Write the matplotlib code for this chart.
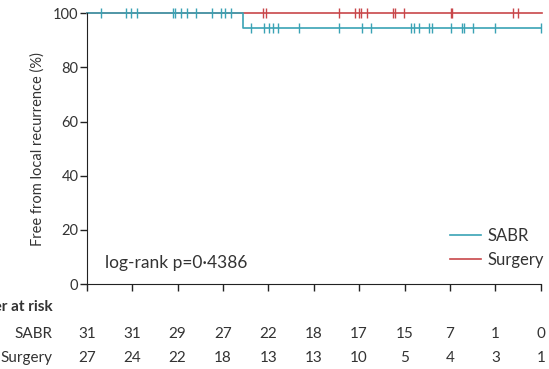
import matplotlib
matplotlib.use("Agg")
import matplotlib.pyplot as plt

plt.rcParams["font.family"] = ["Lato", "DejaVu Sans"]

CYAN = "#3aa3b5"
RED = "#c8474a"
TXT = "#333333"

# time in months, survival in %
sabr_steps_t = [0, 20.6, 60]
sabr_steps_s = [100, 94.4, 94.4]
sabr_cens_t = [1.9, 5.2, 5.9, 6.6, 11.4, 11.7, 12.5, 13.2, 14.4, 16.5, 17.8, 18.3, 19.0,
               21.7, 23.4, 24.1, 24.6, 25.3, 28.1, 33.3, 36.4, 37.6, 42.8, 43.3, 43.9,
               45.2, 45.6, 48.1, 49.6, 49.9, 51.1, 54.0, 60.0]
surg_steps_t = [0, 60.2]
surg_steps_s = [100, 100]
surg_cens_t = [23.3, 23.7, 33.3, 35.4, 36.0, 36.3, 37.0, 40.5, 40.7, 41.9,
               48.1, 48.3, 56.3, 57.0]

risk_times = [0, 6, 12, 18, 24, 30, 36, 42, 48, 54, 60]
sabr_risk = [31, 31, 29, 27, 22, 18, 17, 15, 7, 1, 0]
surg_risk = [27, 24, 22, 18, 13, 13, 10, 5, 4, 3, 1]


def censor_y(t, steps_t, steps_s):
    y = steps_s[0]
    for st, ss in zip(steps_t, steps_s):
        if t >= st:
            y = ss
    return y


fig = plt.figure(figsize=(5.49, 3.69), dpi=100)
ax = fig.add_axes([0.158, 0.230, 0.827, 0.734])

ax.step(surg_steps_t, surg_steps_s, where="post", color=RED, lw=1.2, clip_on=False, label="Surgery")
ax.plot(surg_cens_t, [censor_y(t, surg_steps_t, surg_steps_s) for t in surg_cens_t],
        ls="none", marker="|", ms=7, mew=1.0, color=RED, clip_on=False)
ax.step(sabr_steps_t, sabr_steps_s, where="post", color=CYAN, lw=1.2, clip_on=False, label="SABR")
ax.plot(sabr_cens_t, [censor_y(t, sabr_steps_t, sabr_steps_s) for t in sabr_cens_t],
        ls="none", marker="|", ms=7, mew=1.0, color=CYAN, clip_on=False)

ax.set_xlim(0, 60)
ax.set_ylim(0, 100)
ax.set_xticks(risk_times)
ax.set_xticklabels([])
ax.set_yticks([0, 20, 40, 60, 80, 100])
ax.tick_params(direction="out", length=5, width=1, colors="#222222", labelsize=10.5,
               labelcolor=TXT, pad=1)
for s in ["top", "right"]:
    ax.spines[s].set_visible(False)
for s in ["left", "bottom"]:
    ax.spines[s].set_color("#222222")
ax.set_ylabel("Free from local recurrence (%)", fontsize=10.5, color=TXT, labelpad=6)

ax.text(2.4, 7.8, "log-rank p=0·4386", fontsize=12.5, color=TXT, va="center", ha="left")

handles, labels = ax.get_legend_handles_labels()
ax.legend(handles[::-1], labels[::-1], loc="lower right", bbox_to_anchor=(1.041, 0.004),
          frameon=False, fontsize=12, handlelength=1.9, handletextpad=0.4,
          labelspacing=0.5, labelcolor=TXT)

tr = ax.get_xaxis_transform()
ax.text(-4.5, -0.085, "Number at risk", transform=tr, ha="right", va="center",
        fontsize=11, fontweight="bold", color=TXT, clip_on=False)
ax.text(-4.5, -0.185, "SABR", transform=tr, ha="right", va="center",
        fontsize=11, color=TXT, clip_on=False)
ax.text(-4.5, -0.273, "Surgery", transform=tr, ha="right", va="center",
        fontsize=11, color=TXT, clip_on=False)
for t, a, b in zip(risk_times, sabr_risk, surg_risk):
    ax.text(t, -0.185, str(a), transform=tr, ha="center", va="center",
            fontsize=11, color=TXT, clip_on=False)
    ax.text(t, -0.273, str(b), transform=tr, ha="center", va="center",
            fontsize=11, color=TXT, clip_on=False)

fig.savefig("out.png", dpi=100)
